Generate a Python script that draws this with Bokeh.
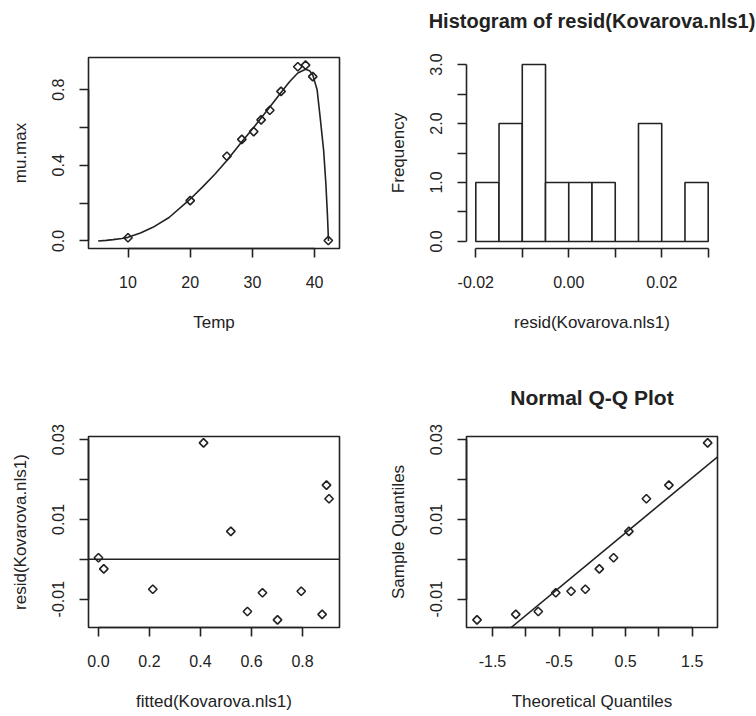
import numpy as np
from bokeh.plotting import figure
from bokeh.layouts import column, row
from bokeh.models import FixedTicker, NumeralTickFormatter, Span, Slope, Range1d
from bokeh.embed import file_html
from bokeh.resources import INLINE

# ---- data ----
temp = [10.0, 20.0, 25.9, 28.3, 30.2, 31.4, 32.8, 34.6, 37.3, 38.55, 39.7, 42.2]
mu_max = [0.017, 0.213, 0.448, 0.537, 0.578, 0.640, 0.691, 0.791, 0.921, 0.930, 0.869, 0.002]

curve_temp = [5.2, 6.5, 7.6, 9.0, 10.0, 12.0, 14.0, 16.6, 19.9, 22.0, 24.0, 25.9, 28.3, 30.2,
              31.4, 32.8, 34.6, 36.0, 37.3, 38.55, 39.2, 39.7, 40.4, 40.9, 41.45, 41.8, 42.07, 42.23]
curve_mu = [0.0, 0.003, 0.007, 0.013, 0.019, 0.042, 0.072, 0.124, 0.218, 0.286, 0.354, 0.425, 0.525, 0.600,
            0.650, 0.708, 0.785, 0.843, 0.888, 0.908, 0.900, 0.878, 0.80, 0.651, 0.479, 0.307, 0.131, 0.0]

fitted = [0.0, 0.021, 0.213, 0.412, 0.519, 0.584, 0.643, 0.702, 0.795, 0.877, 0.894, 0.904]
resid = [0.0004, -0.0024, -0.0075, 0.0292, 0.0070, -0.0131, -0.0084, -0.0152, -0.0080, -0.0138, 0.0186, 0.0152]

hist_edges = [-0.020, -0.015, -0.010, -0.005, 0.000, 0.005, 0.010, 0.015, 0.020, 0.025, 0.030]
hist_counts = [1, 2, 3, 1, 1, 1, 0, 2, 0, 1]

theo_q = [-1.732, -1.150, -0.812, -0.549, -0.319, -0.105, 0.105, 0.319, 0.549, 0.812, 1.150, 1.732]
sample_q = sorted(resid)
quartile_z = [-0.6745, 0.6745]

FONT = "Liberation Sans"
INK = "#222222"
W = 378
FRAME_W = 251
FRAME_H = 191
LEFT = 88


def style(p, box=True):
    p.xgrid.visible = False
    p.ygrid.visible = False
    p.background_fill_color = "white"
    p.border_fill_color = "white"
    if box:
        p.outline_line_color = INK
        p.outline_line_width = 1.6
        p.outline_line_alpha = 1.0
    else:
        p.outline_line_color = None
    for ax in (p.xaxis[0], p.yaxis[0]):
        ax.axis_line_color = INK
        ax.axis_line_width = 1.6
        ax.major_tick_line_color = INK
        ax.minor_tick_line_color = INK
        ax.major_tick_line_width = 1.6
        ax.minor_tick_line_width = 1.6
        ax.major_tick_out = 9
        ax.major_tick_in = 0
        ax.minor_tick_out = 9
        ax.minor_tick_in = 0
        ax.major_label_text_font = FONT
        ax.major_label_text_font_size = "16px"
        ax.major_label_text_color = INK
        ax.axis_label_text_font = FONT
        ax.axis_label_text_font_size = "17px"
        ax.axis_label_text_font_style = "normal"
        ax.axis_label_text_color = INK
    p.xaxis[0].major_label_standoff = 18
    p.xaxis[0].axis_label_standoff = 22
    p.yaxis[0].major_label_standoff = 15
    p.yaxis[0].axis_label_standoff = 20
    p.yaxis[0].major_label_orientation = "vertical"


def make(x_range, y_range, height, top, bottom):
    return figure(width=W, height=height, x_range=Range1d(*x_range), y_range=Range1d(*y_range),
                  min_border_left=LEFT, min_border_right=W - LEFT - FRAME_W,
                  min_border_top=top, min_border_bottom=bottom,
                  output_backend="svg", toolbar_location=None)


def title_strip(text, size, height, text_bottom):
    # an empty strip whose only content is the panel title, centred over the plot frame below it
    t = figure(width=W, height=height, x_range=Range1d(0, 1), y_range=Range1d(0, 1),
               x_axis_type=None, y_axis_type=None, title=text,
               min_border_left=LEFT, min_border_right=W - LEFT - FRAME_W,
               min_border_top=text_bottom, min_border_bottom=0,
               output_backend="svg", toolbar_location=None)
    t.outline_line_color = None
    t.background_fill_color = "white"
    t.border_fill_color = "white"
    t.title.align = "center"
    t.title.vertical_align = "bottom"
    t.title.standoff = 0
    t.title.text_font = FONT
    t.title.text_font_size = size
    t.title.text_font_style = "bold"
    t.title.text_color = INK
    return t


# ---- panel 1: mu.max vs Temp with fitted curve ----
p1 = make((3.65, 44.0), (-0.04, 0.97), 358, 57, 358 - 57 - FRAME_H)
style(p1)
p1.line(curve_temp, curve_mu, line_color=INK, line_width=1.6)
p1.scatter(temp, mu_max, marker="square", angle=np.pi / 4, size=6, fill_color=None,
           line_color=INK, line_width=1.6)
p1.xaxis[0].ticker = FixedTicker(ticks=[10, 20, 30, 40])
p1.xaxis[0].bounds = (10, 40)
p1.yaxis[0].ticker = FixedTicker(ticks=[0.0, 0.4, 0.8], minor_ticks=[0.2, 0.6])
p1.yaxis[0].formatter = NumeralTickFormatter(format="0.0")
p1.yaxis[0].bounds = (0, 0.8)
p1.xaxis[0].axis_label = "Temp"
p1.yaxis[0].axis_label = "mu.max"

# ---- panel 2: histogram of residuals ----
T2 = 40
t2 = title_strip("Histogram of resid(Kovarova.nls1)", "20px", T2, 31)
p2 = make((-0.022, 0.032), (-0.12, 3.12), 358 - T2, 57 - T2, 358 - 57 - FRAME_H)
style(p2, box=False)
p2.quad(left=hist_edges[:-1], right=hist_edges[1:], bottom=0, top=hist_counts,
        fill_color="white", line_color=INK, line_width=1.6)
p2.xaxis[0].ticker = FixedTicker(ticks=[-0.02, 0.0, 0.02], minor_ticks=[-0.01, 0.01, 0.03])
p2.xaxis[0].formatter = NumeralTickFormatter(format="0.00")
p2.xaxis[0].bounds = (-0.02, 0.03)
p2.yaxis[0].ticker = FixedTicker(ticks=[0.0, 1.0, 2.0, 3.0], minor_ticks=[0.5, 1.5, 2.5])
p2.yaxis[0].formatter = NumeralTickFormatter(format="0.0")
p2.yaxis[0].bounds = (0, 3)
p2.xaxis[0].axis_label = "resid(Kovarova.nls1)"
p2.yaxis[0].axis_label = "Frequency"

# ---- panel 3: residuals vs fitted ----
p3 = make((-0.039, 0.945), (-0.0171, 0.0308), 358, 78, 358 - 78 - FRAME_H)
style(p3)
p3.add_layout(Span(location=0, dimension="width", line_color=INK, line_width=1.6))
p3.scatter(fitted, resid, marker="square", angle=np.pi / 4, size=6, fill_color=None,
           line_color=INK, line_width=1.6)
p3.xaxis[0].ticker = FixedTicker(ticks=[0.0, 0.2, 0.4, 0.6, 0.8])
p3.xaxis[0].formatter = NumeralTickFormatter(format="0.0")
p3.xaxis[0].bounds = (0, 0.8)
p3.yaxis[0].ticker = FixedTicker(ticks=[-0.01, 0.01, 0.03], minor_ticks=[0.0, 0.02])
p3.yaxis[0].formatter = NumeralTickFormatter(format="0.00")
p3.yaxis[0].bounds = (-0.01, 0.03)
p3.xaxis[0].axis_label = "fitted(Kovarova.nls1)"
p3.yaxis[0].axis_label = "resid(Kovarova.nls1)"

# ---- panel 4: normal Q-Q plot ----
T4 = 60
t4 = title_strip("Normal Q-Q Plot", "21px", T4, 50)
p4 = make((-1.89, 1.88), (-0.0171, 0.0308), 358 - T4, 78 - T4, 358 - 78 - FRAME_H)
style(p4)
q1, q3 = np.quantile(resid, [0.25, 0.75])
slope = (q3 - q1) / (quartile_z[1] - quartile_z[0])
intercept = q1 - slope * quartile_z[0]
p4.add_layout(Slope(gradient=slope, y_intercept=intercept, line_color=INK, line_width=1.6))
p4.scatter(theo_q, sample_q, marker="square", angle=np.pi / 4, size=6, fill_color=None,
           line_color=INK, line_width=1.6)
p4.xaxis[0].ticker = FixedTicker(ticks=[-1.5, -0.5, 0.5, 1.5], minor_ticks=[-1.0, 0.0, 1.0])
p4.xaxis[0].formatter = NumeralTickFormatter(format="0.0")
p4.xaxis[0].bounds = (-1.5, 1.5)
p4.yaxis[0].ticker = FixedTicker(ticks=[-0.01, 0.01, 0.03], minor_ticks=[0.0, 0.02])
p4.yaxis[0].formatter = NumeralTickFormatter(format="0.00")
p4.yaxis[0].bounds = (-0.01, 0.03)
p4.xaxis[0].axis_label = "Theoretical Quantiles"
p4.yaxis[0].axis_label = "Sample Quantiles"

layout = column(row(p1, column(t2, p2)), row(p3, column(t4, p4)))
open("out.html", "w").write(file_html(layout, INLINE))
